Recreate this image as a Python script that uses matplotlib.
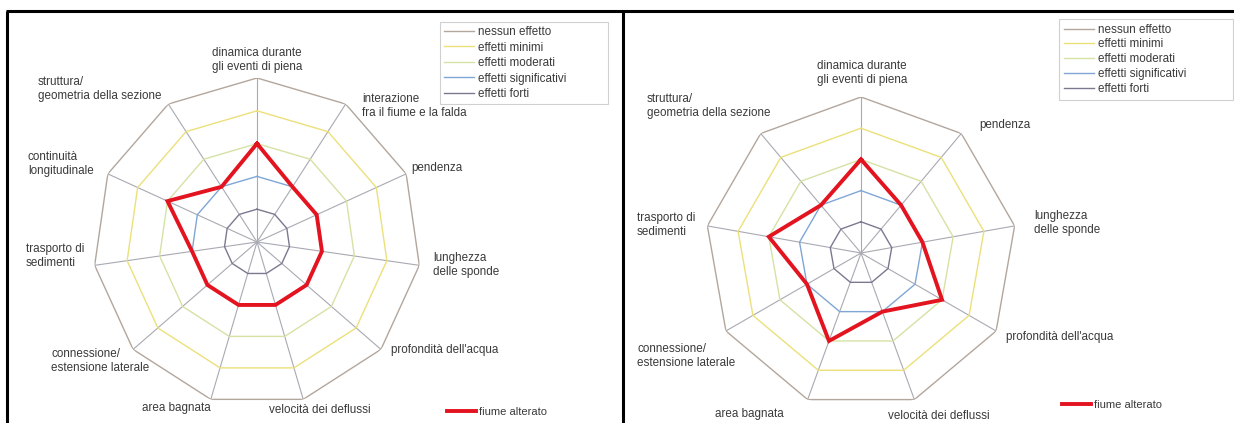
import numpy as np
import matplotlib
matplotlib.use('Agg')
import matplotlib.pyplot as plt
from matplotlib.lines import Line2D

# --- data -------------------------------------------------------------
left_axes_labels = [
    "dinamica durante\ngli eventi di piena",
    "interazione\nfra il fiume e la falda",
    "pendenza",
    "lunghezza\ndelle sponde",
    "profondità dell'acqua",
    "velocità dei deflussi",
    "area bagnata",
    "connessione/\nestensione laterale",
    "trasporto di\nsedimenti",
    "continuità\nlongitudinale",
    "struttura/\ngeometria della sezione",
]
left_values = [3, 2, 2, 2, 2, 2, 2, 2, 2, 3, 2]

right_axes_labels = [
    "dinamica durante\ngli eventi di piena",
    "pendenza",
    "lunghezza\ndelle sponde",
    "profondità dell'acqua",
    "velocità dei deflussi",
    "area bagnata",
    "connessione/\nestensione laterale",
    "trasporto di\nsedimenti",
    "struttura/\ngeometria della sezione",
]
right_values = [3, 2, 2, 3, 2, 3, 2, 3, 2]

level_names = ["nessun effetto", "effetti minimi", "effetti moderati",
               "effetti significativi", "effetti forti"]
level_values = [5, 4, 3, 2, 1]
level_colors = ["#b3a69c", "#ece07a", "#d5e2a4", "#80a6d6", "#7d7890"]
series_name = "fiume alterato"

W, H = 1234, 423
RED = "#e3131f"
TXT = "#3a3a3a"
SPOKE = "#a9a9b3"
FS = 8.4


def fx(x):
    return x / W


def fy(y):
    return 1 - y / H


def radar(fig, cx, cy, rad, labels, values):
    ax = fig.add_axes([fx(cx - rad), fy(cy + rad), 2 * rad / W, 2 * rad / H],
                      projection='polar')
    ax.set_theta_zero_location('N')
    ax.set_theta_direction(-1)
    ax.set_ylim(0, 5)
    ax.set_xticks([])
    ax.set_yticks([])
    ax.grid(False)
    ax.spines['polar'].set_visible(False)
    ax.patch.set_alpha(0)

    n = len(labels)
    ang = np.linspace(0, 2 * np.pi, n, endpoint=False)
    closed = np.append(ang, ang[0])
    for a in ang:
        ax.plot([a, a], [0, 5], color=SPOKE, lw=0.8, zorder=1)
    for lv, col in zip(level_values, level_colors):
        ax.plot(closed, [lv] * (n + 1), color=col, lw=1.0, zorder=2)
    ax.plot(closed, values + values[:1], color=RED, lw=2.8, zorder=5,
            solid_joinstyle='miter')
    return ax


fig = plt.figure(figsize=(W / 100, H / 100), dpi=100)
fig.patch.set_facecolor('white')

radar(fig, 257, 242, 164, left_axes_labels, left_values)
radar(fig, 861, 253, 156, right_axes_labels, right_values)

# --- axis labels (placed by hand like the original) ---------------------
left_pos = [
    (257, 60, 'center'), (362, 106, 'left'), (411, 168, 'left'),
    (433, 265, 'left'), (391, 350, 'left'), (320, 410, 'center'),
    (176, 408, 'center'), (51, 361, 'left'), (26, 256, 'left'),
    (28, 164, 'left'), (38, 89, 'left'),
]
right_pos = [
    (862, 73, 'center'), (979, 125, 'left'), (1034, 223, 'left'),
    (1006, 337, 'left'), (939, 416, 'center'), (749, 414, 'center'),
    (637, 356, 'left'), (637, 225, 'left'), (647, 106, 'left'),
]
for labels, pos in [(left_axes_labels, left_pos), (right_axes_labels, right_pos)]:
    for lab, (x, y, ha) in zip(labels, pos):
        fig.text(fx(x), fy(y), lab, ha=ha, va='center', fontsize=FS,
                 color=TXT, linespacing=1.3, family='Liberation Sans')

# --- legends ------------------------------------------------------------
handles = [Line2D([], [], color=c, lw=1.0) for c in level_colors]
for (x0, y0, x1, sp, bp) in [(440, 22, 608, 0.3, 0.35), (1059, 19, 1233, 0.24, 0.4)]:
    leg = fig.legend(handles, level_names, loc='upper left',
                     bbox_to_anchor=(fx(x0), fy(y0), fx(x1) - fx(x0), 0.0),
                     mode='expand', handlelength=2.6,
                     handletextpad=0.35, labelspacing=sp, borderpad=bp,
                     borderaxespad=0, fancybox=False, framealpha=1,
                     edgecolor='#d0d0d0', prop={'family': 'Liberation Sans', 'size': FS})
    for t in leg.get_texts():
        t.set_color(TXT)
    leg.get_frame().set_linewidth(0.8)

for (x0, y0) in [(437, 412), (1052, 405)]:
    leg = fig.legend([Line2D([], [], color=RED, lw=2.8)], [series_name],
                     loc='center left', bbox_to_anchor=(fx(x0), fy(y0)),
                     frameon=False, handlelength=2.6, handletextpad=0.3,
                     prop={'family': 'Liberation Sans', 'size': 8})
    for t in leg.get_texts():
        t.set_color(TXT)

# --- black frame lines ----------------------------------------------------
frame_kw = dict(color='black', lw=2.2, transform=fig.transFigure, solid_capstyle='butt')
fig.add_artist(Line2D([fx(6), 1], [fy(11.5), fy(11.5)], **frame_kw))
fig.add_artist(Line2D([fx(7), fx(7)], [fy(11.5), 0], **frame_kw))
fig.add_artist(Line2D([fx(623), fx(623)], [fy(11.5), 0], **frame_kw))

fig.savefig('out.png', dpi=100)
